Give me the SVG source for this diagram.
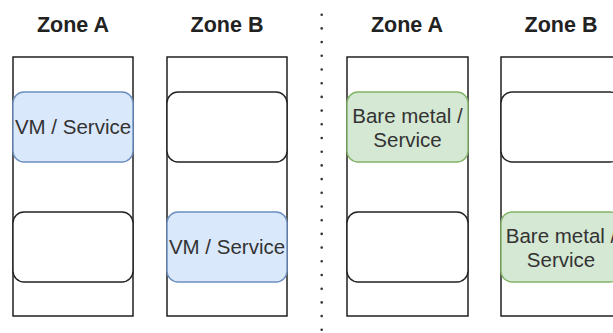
<svg xmlns="http://www.w3.org/2000/svg" width="613" height="333" viewBox="0 0 613 333">
<style>
.zone{font-family:"Liberation Sans",Arial,sans-serif;font-size:21.5px;font-weight:bold;fill:#222;text-anchor:middle}
.lbl{font-family:"Liberation Sans",Arial,sans-serif;font-size:20.5px;fill:#333;text-anchor:middle}
.col{fill:#fff;stroke:#111;stroke-width:1.4}
.empty{fill:#fff;stroke:#222;stroke-width:1.4}
.vm{fill:#dae8fc;stroke:#6c8ebf;stroke-width:1.4}
.bm{fill:#d5e8d4;stroke:#82b366;stroke-width:1.4}
</style>
<rect width="613" height="333" fill="#fff"/>
<g id="headings">
<text class="zone" x="73" y="31.5">Zone A</text>
<text class="zone" x="227" y="31.5">Zone B</text>
<text class="zone" x="407" y="31.5">Zone A</text>
<text class="zone" x="561" y="31.5">Zone B</text>
</g>
<g id="divider">
<line x1="321.7" y1="14.7" x2="321.7" y2="333" stroke="#333" stroke-width="2.6" stroke-linecap="round" stroke-dasharray="0 13.7"/>
</g>
<g id="colA1"><rect class="col" x="13" y="57" width="120" height="259"/></g>
<g id="colB1"><rect class="col" x="167" y="57" width="120" height="259"/></g>
<g id="colA2"><rect class="col" x="347" y="57" width="121" height="259"/></g>
<g id="colB2"><rect class="col" x="501" y="57" width="120" height="259"/></g>
<g id="vmA">
<rect class="vm" x="13" y="92" width="120" height="70" rx="11"/>
<text class="lbl" x="73" y="134">VM / Service</text>
</g>
<g id="emptyA1"><rect class="empty" x="13" y="212" width="120" height="70" rx="11"/></g>
<g id="emptyB1"><rect class="empty" x="167" y="92" width="120" height="70" rx="11"/></g>
<g id="vmB">
<rect class="vm" x="167" y="212" width="120" height="70" rx="11"/>
<text class="lbl" x="227" y="254">VM / Service</text>
</g>
<g id="bmA">
<rect class="bm" x="347" y="92" width="121" height="70" rx="11"/>
<text class="lbl" x="407.5" y="123">Bare metal /</text>
<text class="lbl" x="407.5" y="146.5">Service</text>
</g>
<g id="emptyA2"><rect class="empty" x="347" y="212" width="121" height="70" rx="11"/></g>
<g id="emptyB2"><rect class="empty" x="501" y="92" width="120" height="70" rx="11"/></g>
<g id="bmB">
<rect class="bm" x="501" y="212" width="120" height="70" rx="11"/>
<text class="lbl" x="561" y="243">Bare metal /</text>
<text class="lbl" x="561" y="266.5">Service</text>
</g>
<g id="connectors"/>
</svg>
